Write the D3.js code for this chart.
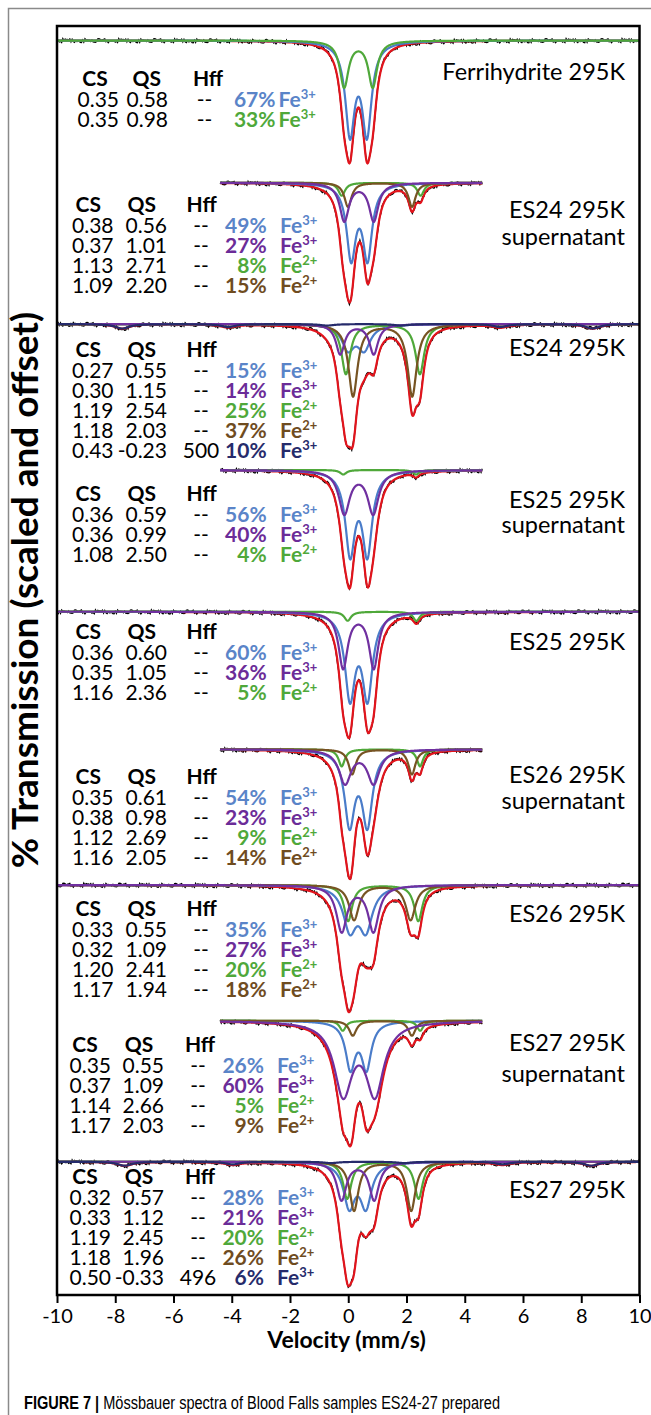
<!DOCTYPE html>
<html>
<head>
<meta charset="utf-8">
<script src="https://cdn.jsdelivr.net/npm/d3@7"></script>
<style>
body { margin: 0; background: #fff; }
text { font-family: Lato, "Open Sans", sans-serif; }
</style>
</head>
<body>
<svg id="chart" width="651" height="1415"></svg>
<script>
/* one entry per spectrum, top to bottom */
var samples = ["Ferrihydrite 295K", "ES24 295K", "ES24 295K", "ES25 295K", "ES25 295K",
               "ES26 295K", "ES26 295K", "ES27 295K", "ES27 295K"];
var supernatant = [false, true, false, true, false, true, false, true, false];
var offsets = [0.145, 1.567, 2.98, 4.44, 5.857, 7.233, 8.59, 9.947, 11.357];
var velFrom = [-10, -4.4, -10, -4.4, -10, -4.4, -10, -4.4, -10];
var velTo   = [10, 4.6, 10, 4.6, 10, 4.6, 10, 4.6, 10];

/* fitted components of each spectrum */
var compCS = [[0.35, 0.35], [0.38, 0.37, 1.13, 1.09], [0.27, 0.30, 1.19, 1.18, 0.43],
              [0.36, 0.36, 1.08], [0.36, 0.35, 1.16], [0.35, 0.38, 1.12, 1.16],
              [0.33, 0.32, 1.20, 1.17], [0.35, 0.37, 1.14, 1.17], [0.32, 0.33, 1.19, 1.18, 0.50]];
var compQS = [[0.58, 0.98], [0.56, 1.01, 2.71, 2.20], [0.55, 1.15, 2.54, 2.03, -0.23],
              [0.59, 0.99, 2.50], [0.60, 1.05, 2.36], [0.61, 0.98, 2.69, 2.05],
              [0.55, 1.09, 2.41, 1.94], [0.55, 1.09, 2.66, 2.03], [0.57, 1.12, 2.45, 1.96, -0.33]];
var compHff = [[null, null], [null, null, null, null], [null, null, null, null, 500],
               [null, null, null], [null, null, null], [null, null, null, null],
               [null, null, null, null], [null, null, null, null], [null, null, null, null, 496]];
var compPct = [[67, 33], [49, 27, 8, 15], [15, 14, 25, 37, 10], [56, 40, 4], [60, 36, 5],
               [54, 23, 9, 14], [35, 27, 20, 18], [26, 60, 5, 9], [28, 21, 20, 26, 6]];
var compVal = [[3, 3], [3, 3, 2, 2], [3, 3, 2, 2, 3], [3, 3, 2], [3, 3, 2], [3, 3, 2, 2],
               [3, 3, 2, 2], [3, 3, 2, 2], [3, 3, 2, 2, 3]];
var compSite = [["blue", "green"], ["blue", "purple", "green", "brown"],
                ["blue", "purple", "green", "brown", "navy"], ["blue", "purple", "green"],
                ["blue", "purple", "green"], ["blue", "purple", "green", "brown"],
                ["blue", "purple", "green", "brown"], ["blue", "purple", "green", "brown"],
                ["blue", "purple", "green", "brown", "navy"]];
// line depth (scaled absorption) and half width (mm/s)
var compDepth = [[0.90, 0.46], [0.73, 0.38, 0.13, 0.24], [0.24, 0.30, 0.50, 0.72, 0.045],
                 [0.81, 0.43, 0.045], [0.83, 0.56, 0.09], [0.73, 0.336, 0.17, 0.25],
                 [0.42, 0.46, 0.36, 0.35], [0.46, 0.71, 0.10, 0.15], [0.43, 0.38, 0.37, 0.49, 0.04]];
var compWidth = [[0.195, 0.18], [0.19, 0.19, 0.14, 0.15], [0.26, 0.18, 0.18, 0.19, 0.3],
                 [0.2, 0.225, 0.13], [0.21, 0.19, 0.14], [0.21, 0.25, 0.13, 0.15],
                 [0.27, 0.22, 0.17, 0.2], [0.2, 0.37, 0.13, 0.15], [0.235, 0.2, 0.17, 0.18, 0.3]];

// baseline scatter of the counts (approximate)
var scatter = [0.3, -0.8, 0.5, 1.0, -0.2, -0.9, 0.6, 0.1, -0.5, 0.9, -0.3, 0.4, -1.0, 0.2, 0.7,
               -0.6, 0.0, 0.8, -0.4, -0.7, 1.0, 0.3, -0.2, 0.5, -0.9, 0.6, -0.1, 0.2, 0.9, -0.8,
               0.4, -0.3, 0.7, -0.5, 0.1, -1.0, 0.6, 0.2, -0.4, 0.8, -0.6, 0.3, 0.0, -0.7, 0.9,
               -0.2, 0.5, -0.9];
var xTicks = [-10, -8, -6, -4, -2, 0, 2, 4, 6, 8, 10];

// alpha-Fe line positions at 330 kOe, relative intensities 3:2:1:1:2:3
var alphaFe = [-5.328, -3.083, -0.839, 0.839, 3.083, 5.328];
var sextetRel = [1, 2 / 3, 1 / 3, 1 / 3, 2 / 3, 1];

var colors = { blue: "#4a7cc9", purple: "#7030a0", green: "#4fa83a", brown: "#775423",
               navy: "#262b6b", red: "#e2141c" };
var textColors = { blue: "#5a84c8", purple: "#6b2c98", green: "#4fa83a", brown: "#6f4c1f",
                   navy: "#262b6b" };

/* layout */
var titleY = [[80], [217.7, 245], [356], [508.3, 533.3], [650], [782.7, 809.3], [921.7],
              [1050.7, 1081.7], [1198.3]];
var headY = [85.5, 211.5, 356.8, 500.8, 639.2, 784.2, 915.8, 1051.8, 1184.2];
var colStd = { cs: 113.5, qs: 167, hff: 201, pct: 266.7, fe: 280, hcs: 88.3, hqs: 141.7, hhff: 201.7 };
var colTop = { cs: 119, qs: 168, hff: 204.5, pct: 275.5, fe: 278.5, hcs: 95, hqs: 146.7, hhff: 208 };
var colLow = { cs: 111, qs: 164, hff: 198, pct: 264, fe: 277, hcs: 85, hqs: 139, hhff: 200 };
var cols = [colTop, colStd, colStd, colStd, colStd, colStd, colStd, colLow, colLow];

var svg = d3.select("#chart");
var x = d3.scaleLinear().domain([-10, 10]).range([57, 639.5]);
var y = d3.scaleLinear().domain([0, 12.69]).range([26, 1295]);

// outer page frame
svg.append("path")
    .attr("d", "M8.5,1415V8.5H651")
    .attr("fill", "none")
    .attr("stroke", "#8a8a8a")
    .attr("stroke-width", 1.5);

function compLines(p, k) {
    var cs = compCS[p][k], qs = compQS[p][k], hff = compHff[p][k], d = compDepth[p][k];
    if (hff == null) return [[cs - qs / 2, d], [cs + qs / 2, d]];
    var f = hff / 330, e = qs / 2;
    return alphaFe.map(function(a, i) {
        return [cs + a * f + ((i == 0 || i == 5) ? e : -e), d * sextetRel[i]];
    });
}

function absorb(p, k, v) {
    var w = compWidth[p][k];
    return d3.sum(compLines(p, k), function(l) {
        var t = (v - l[0]) / w;
        return l[1] / (1 + t * t);
    });
}

var line = d3.line().x(function(d) { return x(d[0]); }).y(function(d) { return y(d[1]); });

samples.forEach(function(name, p) {
    var g = svg.append("g").attr("class", "panel");
    var ks = d3.range(compCS[p].length);
    var fine = d3.range(velFrom[p], velTo[p] + 0.001, 0.01);
    var coarse = d3.range(velFrom[p], velTo[p] + 0.001, 0.04);
    var total = function(v) { return d3.sum(ks, function(k) { return absorb(p, k, v); }); };

    // measured counts
    g.append("path")
        .attr("d", line(coarse.map(function(v, i) {
            return [v, offsets[p] + total(v) + 0.02 * scatter[(i * 7 + p * 11) % scatter.length]];
        })))
        .attr("fill", "none")
        .attr("stroke", "#000")
        .attr("stroke-width", 1.3);

    // total fit
    g.append("path")
        .attr("d", line(fine.map(function(v) { return [v, offsets[p] + total(v)]; })))
        .attr("fill", "none")
        .attr("stroke", colors.red)
        .attr("stroke-width", 2.2);

    // components, drawn in this order
    ["blue", "green", "brown", "purple", "navy"].forEach(function(site) {
        ks.filter(function(k) { return compSite[p][k] == site; }).forEach(function(k) {
            g.append("path")
                .attr("d", line(fine.map(function(v) { return [v, offsets[p] + absorb(p, k, v)]; })))
                .attr("fill", "none")
                .attr("stroke", colors[site])
                .attr("stroke-width", 2.2);
        });
    });

    // sample name
    var names = supernatant[p] ? [name, "supernatant"] : [name];
    names.forEach(function(t, i) {
        g.append("text")
            .attr("x", 625)
            .attr("y", titleY[p][i])
            .attr("text-anchor", "end")
            .attr("font-size", 23.5)
            .text(t);
    });

    // parameter table
    var c = cols[p];
    [["CS", c.hcs], ["QS", c.hqs], ["Hff", c.hhff]].forEach(function(h) {
        g.append("text")
            .attr("x", h[1])
            .attr("y", headY[p])
            .attr("text-anchor", "middle")
            .attr("font-size", 21)
            .attr("font-weight", "bold")
            .text(h[0]);
    });

    ks.forEach(function(k) {
        var ry = headY[p] + 21 + 20 * k;
        var row = g.append("g").attr("font-size", 21);
        row.append("text").attr("x", c.cs).attr("y", ry).attr("text-anchor", "end")
            .text(compCS[p][k].toFixed(2));
        row.append("text").attr("x", c.qs).attr("y", ry).attr("text-anchor", "end")
            .text(compQS[p][k].toFixed(2));
        row.append("text").attr("x", c.hff).attr("y", ry).attr("text-anchor", "middle")
            .text(compHff[p][k] == null ? "--" : compHff[p][k]);
        row.append("text").attr("x", c.pct).attr("y", ry).attr("text-anchor", "end")
            .attr("font-weight", "bold")
            .attr("fill", textColors[compSite[p][k]])
            .text(compPct[p][k] + "%");
        var fe = row.append("text").attr("x", c.fe).attr("y", ry)
            .attr("font-weight", "bold")
            .attr("fill", textColors[compSite[p][k]]);
        fe.append("tspan").text("Fe");
        fe.append("tspan").attr("dy", -8).attr("font-size", 13).text(compVal[p][k] + "+");
    });
});

// plot frame
svg.append("rect")
    .attr("x", 57)
    .attr("y", 26)
    .attr("width", 582.5)
    .attr("height", 1269)
    .attr("fill", "none")
    .attr("stroke", "#000")
    .attr("stroke-width", 2.5);

// velocity axis
var axisG = svg.append("g").attr("transform", "translate(0,1295)");
axisG.call(d3.axisBottom(x).tickValues(d3.range(-10, 10.001, 0.25)).tickSize(5).tickFormat(""));
axisG.call(d3.axisBottom(x).tickValues(xTicks).tickSize(8).tickFormat(function(d) { return String(d); }));
axisG.selectAll(".domain").remove();
axisG.selectAll("line").attr("stroke", "#000").attr("stroke-width", 2);
axisG.selectAll("text")
    .attr("y", 28)
    .attr("dy", null)
    .attr("font-size", 20)
    .attr("font-family", "Lato, sans-serif")
    .attr("fill", "#000");

svg.append("text")
    .attr("x", 346.5)
    .attr("y", 1348)
    .attr("text-anchor", "middle")
    .attr("font-size", 23)
    .attr("font-weight", "bold")
    .text("Velocity (mm/s)");

svg.append("text")
    .attr("transform", "translate(38,590) rotate(-90)")
    .attr("text-anchor", "middle")
    .attr("font-size", 37)
    .attr("font-weight", "bold")
    .text("% Transmission (scaled and offset)");

// caption
var cap = svg.append("text")
    .attr("x", 24)
    .attr("y", 1409)
    .attr("font-size", 17.5)
    .attr("textLength", 476)
    .attr("lengthAdjust", "spacingAndGlyphs")
    .style("font-family", "'Liberation Sans Narrow', 'Liberation Sans', Arial, sans-serif");
cap.append("tspan").attr("font-weight", "bold").text("FIGURE 7 | ");
cap.append("tspan").text("Mössbauer spectra of Blood Falls samples ES24-27 prepared");
</script>
</body>
</html>
